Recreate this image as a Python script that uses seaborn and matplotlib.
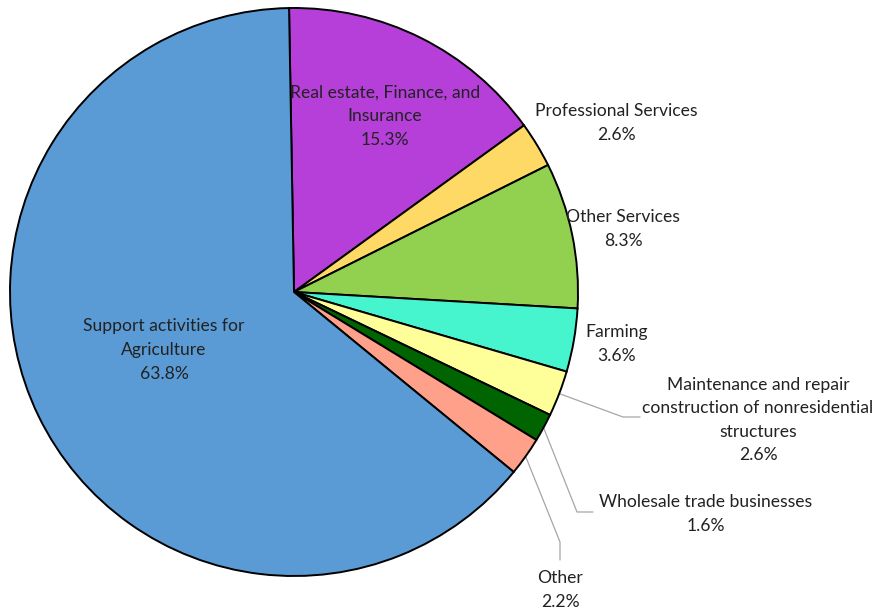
import matplotlib
matplotlib.use("Agg")
import matplotlib.pyplot as plt
import numpy as np
import seaborn as sns

# Share of establishments by industry (percent), listed clockwise from the top
labels = [
    "Real estate, Finance, and\nInsurance",
    "Professional Services",
    "Other Services",
    "Farming",
    "Maintenance and repair\nconstruction of nonresidential\nstructures",
    "Wholesale trade businesses",
    "Other",
    "Support activities for\nAgriculture",
]
shares = [15.3, 2.6, 8.3, 3.6, 2.6, 1.6, 2.2, 63.8]
colors = ["#B63FDA", "#FFD966", "#92D050", "#46F5CE",
          "#FFFF99", "#006400", "#FFA08A", "#5B9BD5"]

sns.set_theme(style="white")
plt.rcParams["font.family"] = ["Lato", "DejaVu Sans"]

W, H = 883, 613
fig = plt.figure(figsize=(W / 100, H / 100), dpi=100)
ax = fig.add_axes([0, 0, 1, 1])

cx, cy, R = 294, H - 292, 284
wedges, _ = ax.pie(
    shares, colors=colors, startangle=91, counterclock=False,
    center=(cx, cy), radius=R, frame=True,
    wedgeprops=dict(edgecolor="black", linewidth=1.4),
)
ax.set_xlim(0, W)
ax.set_ylim(0, H)
ax.set_aspect("equal")
ax.axis("off")

# label placement (pixel coords from top-left) and optional leader elbow
layout = [
    dict(xy=(385, 116), leader=None),
    dict(xy=(616, 123), leader=None),
    dict(xy=(623, 229), leader=None),
    dict(xy=(617, 344), leader=None),
    dict(xy=(758, 420), leader=[(623, 417), (640, 417)]),
    dict(xy=(706, 514), leader=[(577, 512), (593, 512)]),
    dict(xy=(560, 590), leader=[(560, 542), (560, 560)]),
    dict(xy=(164, 350), leader=None),
]

for w, lab, val, lay in zip(wedges, labels, shares, layout):
    tx, ty = lay["xy"]
    ax.text(tx, H - ty, f"{lab}\n{val:.1f}%", ha="center", va="center",
            fontsize=12.6, color="#222222", linespacing=1.58)
    if lay["leader"]:
        mid = np.deg2rad((w.theta1 + w.theta2) / 2)
        sx, sy = cx + R * np.cos(mid), cy + R * np.sin(mid)
        pts = [(sx, sy)] + [(px, H - py) for px, py in lay["leader"]]
        xs, ys = zip(*pts)
        ax.plot(xs, ys, color="#a6a6a6", linewidth=0.9, zorder=0)

fig.savefig("out.png", dpi=100, facecolor="white")
